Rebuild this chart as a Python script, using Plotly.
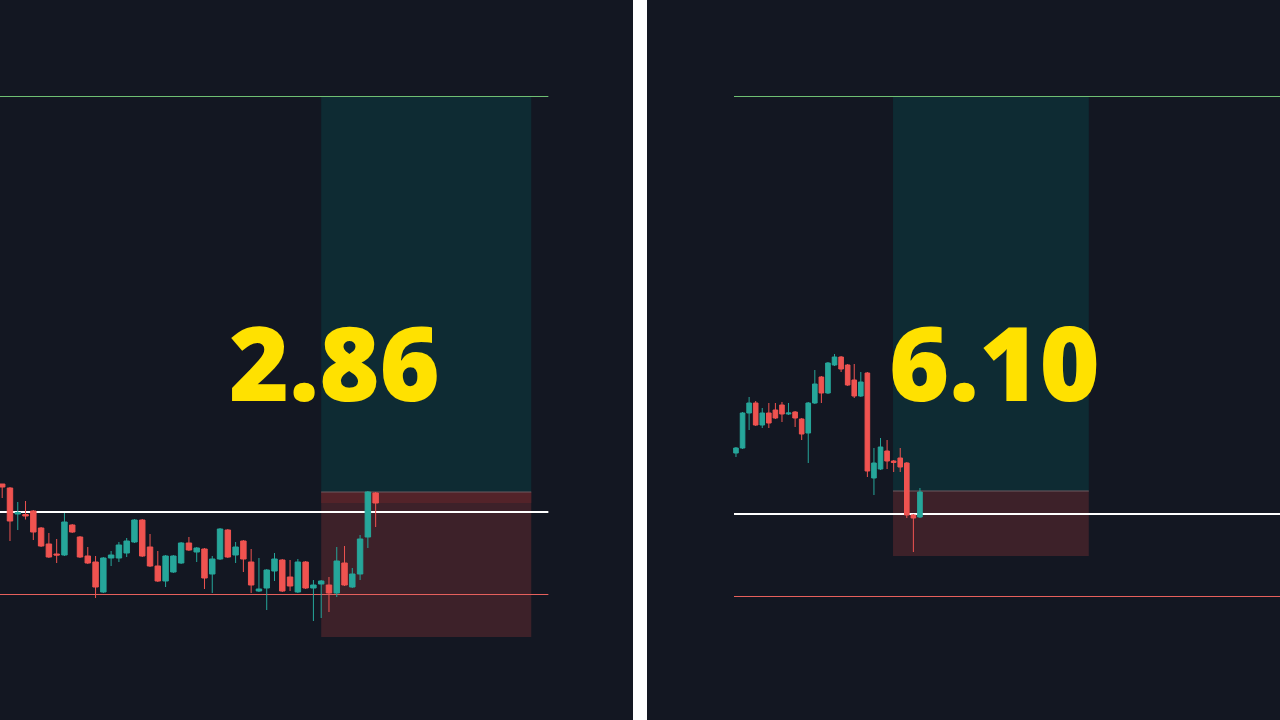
import plotly.graph_objects as go

# ---------------- Left panel (ratio 2.86) ----------------
left_idx = list(range(49))
left_open = [236, 232, 206, 205.5, 209, 192, 176, 166, 165, 195, 183, 164, 158, 128, 162, 162, 167, 178, 200, 173,
             154, 139, 148, 157, 177, 168, 171, 146, 161, 190, 165, 179, 158, 129, 132, 149, 160, 143, 128, 158,
             132, 136, 135, 127, 157, 133, 146, 183, 227]
left_high = [236, 233, 218, 219, 210, 193, 187, 181, 207, 196, 184, 173, 164, 163, 169, 178, 182, 201, 201, 186,
             169, 165, 165, 178, 183, 173, 172, 164, 192, 191, 178, 180, 171, 162, 151, 167, 161, 160, 161, 159,
             140, 140, 143, 173, 174, 152, 185, 229, 228]
left_low = [222, 179, 190, 200.5, 180, 173, 162, 157, 164, 187, 162, 156, 122, 127, 154, 158, 163, 177, 163, 153,
            138, 133, 147, 156, 169, 158, 131, 127, 160, 162, 157, 148, 127, 128, 110, 139, 128, 129, 127, 131,
            99, 102, 108, 123, 134, 132, 140, 172, 193]
left_close = [233, 199, 207.5, 204, 188, 174, 163, 165, 198, 188, 163, 157, 133, 162, 165, 175, 179, 200, 164, 154,
              139, 164, 164, 177, 170, 172, 142, 161, 191, 163, 173, 161, 135, 131, 150, 161, 129, 134, 158, 132,
              135, 139, 127, 159, 135, 146, 181, 228, 217]

left_target = 623.5    # green level
left_entry = 208       # white level
left_stop = 125.5      # red level
left_box_mid = 228     # boundary between green and red zones
left_box_bottom = 83
left_band_low = 217
left_box_x = [41.0, 68.0]
left_line_x = [-0.3, 70.2]
left_label = "2.86"

# ---------------- Right panel (ratio 6.10) ----------------
right_idx = list(range(29))
right_open = [267, 272, 307, 317, 295, 307, 310, 315, 306, 308, 301, 287, 317, 343, 327, 355, 363, 355, 340, 324,
              347, 242, 251, 269, 259, 262, 257, 205, 203]
right_high = [273, 308, 323, 319, 312, 317, 317, 318, 317, 309, 302, 318, 350, 344, 358, 366, 364, 356, 356, 348,
              348, 272, 282, 280, 260, 272, 258, 206, 232]
right_low = [263, 271, 290, 294, 292, 292, 301, 298, 305, 293, 280, 257, 316, 317, 326, 354, 348, 334, 322, 323,
             243, 225, 250, 251, 248, 248, 202, 168, 202]
right_close = [272, 307, 317, 295, 307, 297, 302, 306, 307, 302, 286, 317, 336, 327, 357, 363, 351, 335, 324, 338,
               249, 257, 273, 259, 257.5, 253, 205, 202, 228]

right_target = 623.5
right_entry = 206
right_stop = 123.5
right_box_mid = 229
right_box_bottom = 164
right_box_x = [23.9, 53.7]
right_line_x = [-0.3, 82.8]
right_label = "6.10"

# ---------------- Styles ----------------
BG = "#131722"
UP = "#26a69a"
DOWN = "#ef5350"
GREEN_ZONE = "#0e2b33"
RED_ZONE = "#3d2129"
RED_BAND = "#532329"
GREEN_LINE = "#6fbf73"
RED_LINE = "#e6605c"
YELLOW = "#ffe100"

fig = go.Figure()

for xs, o, h, l, c, xa, ya in [
    (left_idx, left_open, left_high, left_low, left_close, "x", "y"),
    (right_idx, right_open, right_high, right_low, right_close, "x2", "y2"),
]:
    fig.add_trace(go.Candlestick(
        x=xs, open=o, high=h, low=l, close=c, xaxis=xa, yaxis=ya,
        increasing=dict(line=dict(color=UP, width=1), fillcolor=UP),
        decreasing=dict(line=dict(color=DOWN, width=1), fillcolor=DOWN),
        whiskerwidth=0, hoverinfo="skip", showlegend=False,
    ))

shapes = []


def panel_shapes(xr, yr, box_x, line_x, target, entry, stop, mid, bottom, band=None):
    out = [
        dict(type="rect", xref=xr, yref=yr, x0=box_x[0], x1=box_x[1], y0=mid, y1=target,
             fillcolor=GREEN_ZONE, line=dict(width=0), layer="below"),
        dict(type="rect", xref=xr, yref=yr, x0=box_x[0], x1=box_x[1], y0=bottom, y1=mid,
             fillcolor=RED_ZONE, line=dict(width=0), layer="below"),
    ]
    if band is not None:
        out.append(dict(type="rect", xref=xr, yref=yr, x0=box_x[0], x1=box_x[1], y0=band, y1=mid,
                        fillcolor=RED_BAND, line=dict(width=0), layer="below"))
    out += [
        dict(type="line", xref=xr, yref=yr, x0=box_x[0], x1=box_x[1], y0=mid, y1=mid,
             line=dict(color="#6e5a60", width=1), layer="below"),
        dict(type="line", xref=xr, yref=yr, x0=line_x[0], x1=line_x[1], y0=target, y1=target,
             line=dict(color=GREEN_LINE, width=1), layer="below"),
        dict(type="line", xref=xr, yref=yr, x0=line_x[0], x1=line_x[1], y0=entry, y1=entry,
             line=dict(color="#ffffff", width=2), layer="below"),
        dict(type="line", xref=xr, yref=yr, x0=line_x[0], x1=line_x[1], y0=stop, y1=stop,
             line=dict(color=RED_LINE, width=1), layer="below"),
    ]
    return out


shapes += panel_shapes("x", "y", left_box_x, left_line_x, left_target, left_entry, left_stop,
                       left_box_mid, left_box_bottom, band=left_band_low)
shapes += panel_shapes("x2", "y2", right_box_x, right_line_x, right_target, right_entry, right_stop,
                       right_box_mid, right_box_bottom)

# white separator between the two panels
shapes.append(dict(type="rect", xref="paper", yref="paper", x0=633 / 1280, x1=647 / 1280, y0=0, y1=1,
                   fillcolor="#ffffff", line=dict(width=0), layer="above"))

label_font = dict(family="'Open Sans', Lato, sans-serif", size=103, color=YELLOW, weight=800)
annotations = [
    dict(xref="paper", yref="paper", x=334 / 1280, y=1 - 361 / 720, text=left_label, showarrow=False,
         font=label_font, xanchor="center", yanchor="middle"),
    dict(xref="paper", yref="paper", x=994 / 1280, y=1 - 361 / 720, text=right_label, showarrow=False,
         font=label_font, xanchor="center", yanchor="middle"),
]

axis_common = dict(showgrid=False, zeroline=False, showticklabels=False, ticks="", showline=False,
                   fixedrange=True)

fig.update_layout(
    width=1280, height=720,
    margin=dict(l=0, r=0, t=0, b=0),
    paper_bgcolor=BG, plot_bgcolor=BG,
    boxgap=0.0,
    showlegend=False,
    shapes=shapes,
    annotations=annotations,
    xaxis=dict(domain=[0, 632 / 1280], range=[-0.283, 80.95], rangeslider=dict(visible=False), **axis_common),
    xaxis2=dict(domain=[648 / 1280, 1], range=[-13.39, 82.8], rangeslider=dict(visible=False), **axis_common),
    yaxis=dict(domain=[0, 1], range=[0, 720], **axis_common),
    yaxis2=dict(domain=[0, 1], range=[0, 720], anchor="x2", **axis_common),
)

fig.write_html("out.html", config={"displayModeBar": False},
               post_script="document.body.style.margin='0';document.body.style.background='#131722';")
